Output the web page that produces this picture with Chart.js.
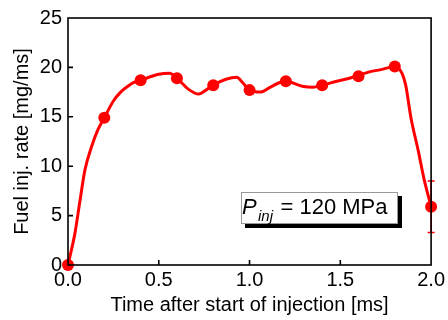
<!DOCTYPE html>
<html>
<head>
<meta charset="utf-8">
<script src="https://cdn.jsdelivr.net/npm/chart.js@4/dist/chart.umd.min.js"></script>
<style>
  body { margin: 0; background: #fff; }
</style>
</head>
<body>
<canvas id="rate" width="448" height="320"></canvas>
<script>
// measured injection rate (smooth trace)
const curveTime = [0, 0.038, 0.066, 0.093, 0.13, 0.165, 0.2, 0.25, 0.29, 0.33, 0.36, 0.4, 0.5, 0.56, 0.6,
    0.67, 0.72, 0.76, 0.8, 0.87, 0.93, 0.96, 1.0, 1.06, 1.11, 1.17, 1.2, 1.29, 1.35, 1.4, 1.48,
    1.55, 1.6, 1.66, 1.73, 1.8, 1.84, 1.86, 1.89, 1.93, 1.96, 2.0];
const curveRate = [0, 3.2, 6.5, 9.6, 12.0, 13.7, 14.9, 16.6, 17.5, 18.1, 18.45, 18.7, 19.3, 19.4, 18.9,
    17.7, 17.3, 17.7, 18.2, 18.8, 19.0, 18.5, 17.7, 17.5, 17.95, 18.5, 18.6, 18.1, 18.0, 18.2, 18.6,
    18.9, 19.2, 19.55, 19.8, 20.1, 19.4, 18.2, 14.8, 11.5, 8.8, 5.9];

// markers every 0.2 ms
const markerTime = [0, 0.2, 0.4, 0.6, 0.8, 1.0, 1.2, 1.4, 1.6, 1.8, 2.0];
const markerRate = [0, 14.9, 18.7, 18.9, 18.2, 17.7, 18.6, 18.2, 19.1, 20.1, 5.9];
const errLow = [0, 14.9, 18.7, 18.9, 18.2, 17.7, 18.6, 18.2, 19.1, 20.1, 3.3];
const errHigh = [0, 14.9, 18.7, 18.9, 18.2, 17.7, 18.6, 18.2, 19.1, 20.1, 8.5];

const xTicks = [0, 0.5, 1.0, 1.5, 2.0];
const yTicks = [0, 5, 10, 15, 20, 25];

const FONT = '"Liberation Sans", Arial, sans-serif';
const RED = 'rgb(255, 0, 0)';

const frame = {
    id: 'frame',
    afterDatasetsDraw(chart) {
        const ctx = chart.ctx;
        const a = chart.chartArea;
        const xs = chart.scales.x, ys = chart.scales.y;

        // error bars
        ctx.save();
        ctx.strokeStyle = RED;
        ctx.lineWidth = 1.5;
        markerTime.forEach((t, i) => {
            if (errHigh[i] - errLow[i] < 0.5) return;
            const px = xs.getPixelForValue(t);
            const lo = ys.getPixelForValue(errLow[i]);
            const hi = ys.getPixelForValue(errHigh[i]);
            ctx.beginPath();
            ctx.moveTo(px, lo); ctx.lineTo(px, hi);
            ctx.moveTo(px - 3.5, lo); ctx.lineTo(px + 3.5, lo);
            ctx.moveTo(px - 3.5, hi); ctx.lineTo(px + 3.5, hi);
            ctx.stroke();
        });
        ctx.restore();

        // box round the plot
        ctx.save();
        ctx.strokeStyle = '#000';
        ctx.lineWidth = 1.6;
        ctx.strokeRect(a.left, a.top, a.right - a.left, a.bottom - a.top);

        // inward ticks
        ctx.beginPath();
        xTicks.forEach(v => {
            const px = xs.getPixelForValue(v);
            if (v === xs.min || v === xs.max) return;
            ctx.moveTo(px, a.bottom); ctx.lineTo(px, a.bottom - 5);
        });
        yTicks.forEach(v => {
            const py = ys.getPixelForValue(v);
            if (v === ys.min || v === ys.max) return;
            ctx.moveTo(a.left, py); ctx.lineTo(a.left + 5, py);
        });
        ctx.stroke();
        ctx.restore();

        // pressure label
        ctx.save();
        ctx.fillStyle = '#000';
        ctx.fillRect(245, 196, 157, 32);
        ctx.fillStyle = '#fff';
        ctx.fillRect(241, 192, 157, 32);
        ctx.strokeStyle = '#999';
        ctx.lineWidth = 1;
        ctx.strokeRect(241.5, 192.5, 156, 31);
        ctx.fillStyle = '#000';
        ctx.textBaseline = 'alphabetic';
        ctx.font = 'italic 22px ' + FONT;
        ctx.fillText('P', 242, 214);
        ctx.font = 'italic 15px ' + FONT;
        ctx.fillText('inj', 258, 221);
        ctx.font = '22px ' + FONT;
        ctx.fillText('= 120 MPa', 280.5, 214);
        ctx.restore();
    }
};

new Chart(document.getElementById('rate'), {
    type: 'line',
    data: {
        datasets: [{
            label: 'trace',
            data: curveTime.map((t, i) => ({ x: t, y: curveRate[i] })),
            borderColor: RED,
            borderWidth: 3,
            pointRadius: 0,
            cubicInterpolationMode: 'monotone',
            fill: false
        }, {
            label: 'markers',
            data: markerTime.map((t, i) => ({ x: t, y: markerRate[i] })),
            showLine: false,
            pointRadius: 6,
            pointBackgroundColor: RED,
            pointBorderColor: RED,
            pointBorderWidth: 0,
            clip: false
        }]
    },
    options: {
        responsive: false,
        animation: false,
        layout: { padding: { top: 15, right: 16, left: 0, bottom: 0 } },
        plugins: {
            legend: { display: false },
            tooltip: { enabled: false }
        },
        scales: {
            x: {
                type: 'linear',
                min: 0,
                max: 2,
                afterFit(s) { s.height = 55; },
                afterBuildTicks(s) { s.ticks = xTicks.map(v => ({ value: v })); },
                ticks: {
                    color: '#000',
                    padding: 3,
                    maxRotation: 0,
                    font: { family: FONT, size: 20 },
                    callback: v => v.toFixed(1)
                },
                grid: { display: false, drawTicks: false },
                border: { display: false },
                title: {
                    display: true,
                    text: 'Time after start of injection [ms]',
                    color: '#000',
                    font: { family: FONT, size: 20 },
                    padding: { top: 0, bottom: 3 }
                }
            },
            y: {
                min: 0,
                max: 25,
                afterFit(s) { s.width = 68; },
                afterBuildTicks(s) { s.ticks = yTicks.map(v => ({ value: v })); },
                ticks: {
                    color: '#000',
                    padding: 6,
                    font: { family: FONT, size: 20 }
                },
                grid: { display: false, drawTicks: false },
                border: { display: false },
                title: {
                    display: true,
                    text: 'Fuel inj. rate [mg/ms]',
                    color: '#000',
                    font: { family: FONT, size: 20 },
                    padding: { top: 10, bottom: 0 }
                }
            }
        }
    },
    plugins: [frame]
});
</script>
</body>
</html>
